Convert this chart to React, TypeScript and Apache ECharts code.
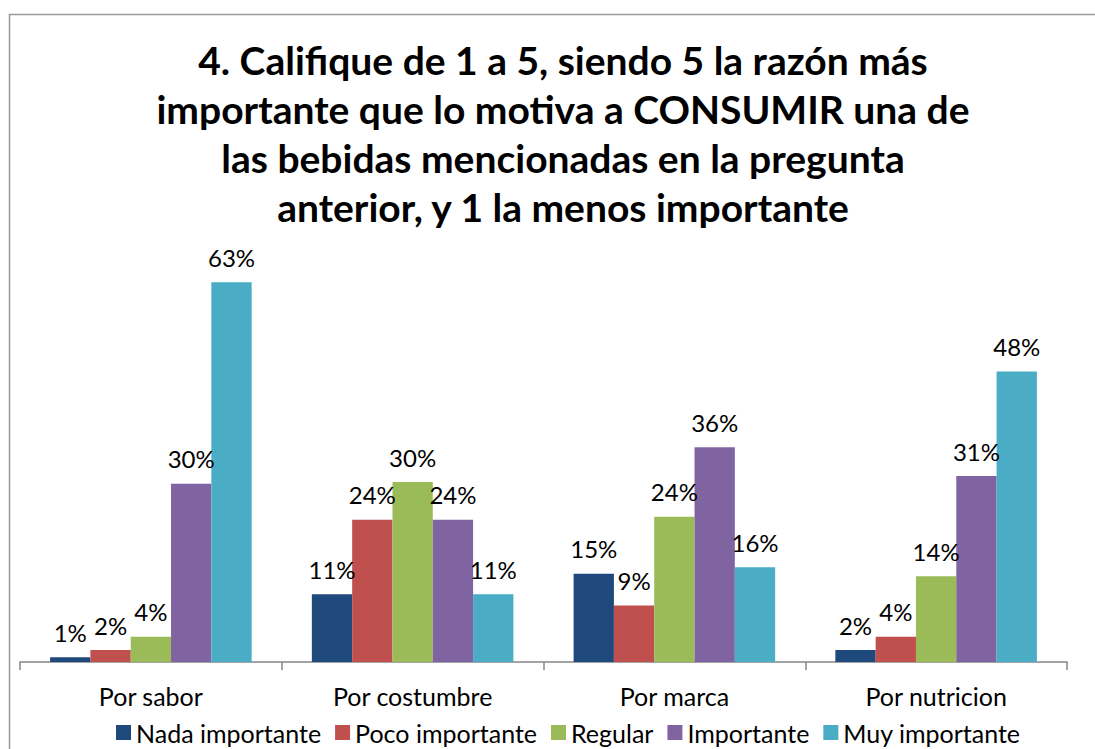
import React, { useEffect, useRef } from "react";
import * as echarts from "echarts";

const titleLines = [
  "4. Califique de 1 a 5, siendo 5 la razón más",
  "importante que lo motiva a CONSUMIR una de",
  "las bebidas mencionadas en la pregunta",
  "anterior, y 1 la menos importante",
];
const categories = ["Por sabor", "Por costumbre", "Por marca", "Por nutricion"];
const seriesNames = ["Nada importante", "Poco importante", "Regular", "Importante", "Muy importante"];
const colors = ["#1F497D", "#C0504D", "#9BBB59", "#8064A2", "#4BACC6"];
const nada = [0.8, 11.3, 14.7, 2.0];
const poco = [2.0, 23.7, 9.4, 4.2];
const regular = [4.2, 30.0, 24.2, 14.3];
const importante = [29.7, 23.7, 35.8, 31.0];
const muy = [63.3, 11.3, 15.8, 48.4];
const seriesValues = [nada, poco, regular, importante, muy];

const FONT = "Lato";

export default function App() {
  const ref = useRef<HTMLDivElement>(null);
  useEffect(() => {
    if (!ref.current) return;
    const chart = echarts.init(ref.current, undefined, { renderer: "svg" });
    chart.setOption({
      animation: false,
      backgroundColor: "#ffffff",
      title: {
        text: titleLines.join("\n"),
        left: 558,
        textAlign: "center",
        top: 30,
        textStyle: {
          fontFamily: FONT,
          fontWeight: "bold",
          fontSize: 39,
          lineHeight: 49,
          color: "#000000",
        },
      },
      graphic: [
        {
          type: "rect",
          shape: { x: 9.5, y: 14.5, width: 1200, height: 800 },
          style: { fill: "none", stroke: "#9a9a9a", lineWidth: 1.5 },
          silent: true,
        },
      ],
      legend: {
        top: 715,
        left: 111,
        itemWidth: 15,
        itemHeight: 15,
        itemGap: 14,
        icon: "rect",
        textStyle: { fontFamily: FONT, fontSize: 25, color: "#000000" },
        data: seriesNames,
      },
      grid: { left: 20, right: 28, top: 242, bottom: 87 },
      xAxis: {
        type: "category",
        data: categories,
        axisLine: { lineStyle: { color: "#868686", width: 1.5 } },
        axisTick: { show: true, length: 8, lineStyle: { color: "#868686", width: 1.5 } },
        axisLabel: { fontFamily: FONT, fontSize: 25, color: "#000000", margin: 21 },
      },
      yAxis: {
        type: "value",
        min: 0,
        max: 70,
        show: false,
        splitLine: { show: false },
      },
      series: seriesNames.map((name, i) => ({
        name,
        type: "bar",
        data: seriesValues[i],
        barGap: "0%",
        barCategoryGap: "23%",
        itemStyle: { color: colors[i] },
        label: {
          show: true,
          position: "top",
          distance: 13,
          fontFamily: FONT,
          fontSize: 24,
          color: "#000000",
          formatter: (p: any) => Math.round(p.value) + "%",
        },
      })),
    });
    return () => chart.dispose();
  }, []);
  return (
    <div
      ref={ref}
      style={{ position: "fixed", left: 0, top: 0, width: 1095, height: 749 }}
    />
  );
}
